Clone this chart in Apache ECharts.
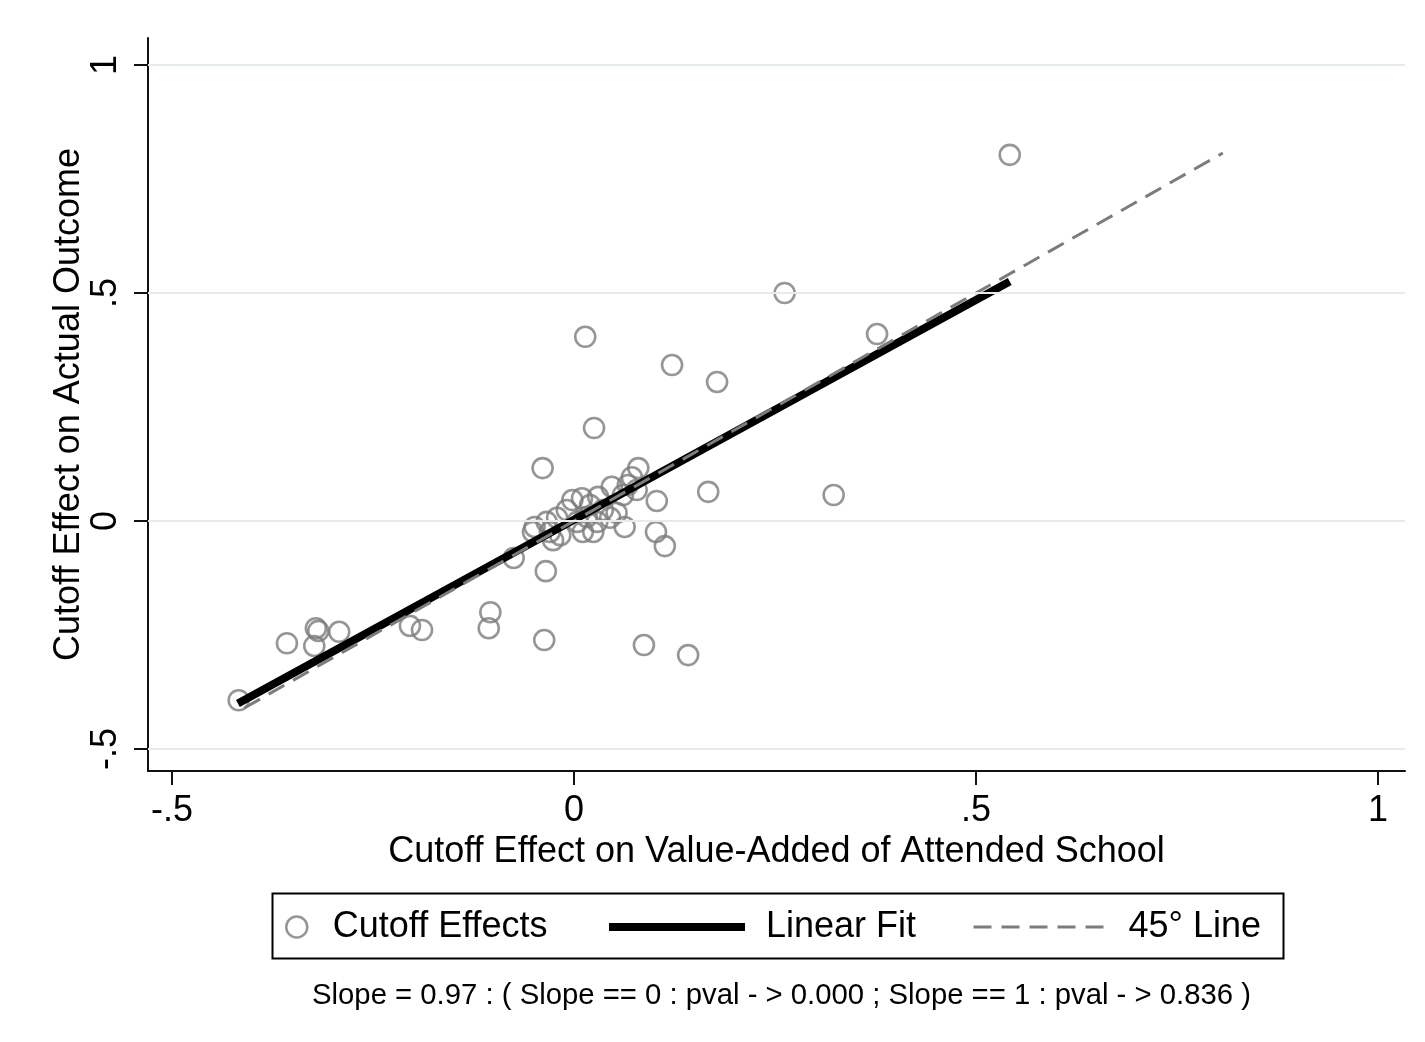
<!DOCTYPE html>
<html>
<head>
<meta charset="utf-8">
<title>Cutoff effects</title>
<script src="https://cdn.jsdelivr.net/npm/echarts@6/dist/echarts.min.js"></script>
<style>
  html, body { margin: 0; padding: 0; background: #fff; }
  #main { width: 1425px; height: 1042px; }
</style>
</head>
<body>
<div id="main"></div>
<script>
// cutoff effects
var effX = [0.542, 0.262, 0.377, 0.014, 0.122, 0.178, 0.025, -0.039, 0.167, 0.323,
            0.080, 0.072, 0.047, 0.067, 0.078, 0.103, 0.030, 0.061, -0.002, 0.010,
            0.020, 0.036, 0.053, 0.045, 0.029, 0.063, 0.102, 0.113, 0.024, -0.009,
            -0.021, -0.034, -0.049, -0.051, -0.030, -0.017, -0.026, 0.004, 0.016, 0.011,
            -0.075, -0.035, -0.104, -0.106, -0.204, -0.189, -0.037, 0.087, 0.142, -0.292,
            -0.321, -0.318, -0.323, -0.357, -0.417];
var effY = [0.803, 0.500, 0.410, 0.404, 0.342, 0.305, 0.204, 0.116, 0.064, 0.057,
            0.116, 0.096, 0.075, 0.079, 0.068, 0.044, 0.053, 0.057, 0.046, 0.050,
            0.035, 0.024, 0.018, 0.007, -0.002, -0.013, -0.024, -0.055, -0.024, 0.024,
            0.007, -0.002, -0.013, -0.024, -0.024, -0.031, -0.042, -0.002, 0.009, -0.024,
            -0.081, -0.110, -0.200, -0.235, -0.230, -0.239, -0.261, -0.272, -0.294, -0.243,
            -0.235, -0.241, -0.274, -0.268, -0.393];

// linear fit end points
var fitX = [-0.418, 0.542];
var fitY = [-0.400, 0.525];

// 45 degree line
var diagX = [-0.41, 0.807];
var diagY = [-0.41, 0.807];

var xTicks = [-0.5, 0, 0.5, 1];
var yTicks = [-0.5, 0, 0.5, 1];

var footNote = 'Slope = 0.97 : ( Slope == 0 : pval - > 0.000 ; Slope == 1 : pval - > 0.836 )';

function pairs(xs, ys) {
  var out = [];
  for (var i = 0; i < xs.length; i++) out.push([xs[i], ys[i]]);
  return out;
}

// stata style labels: -.5 .5
function stataNum(v) {
  return String(v).replace('0.', '.');
}

var FONT = 'Liberation Sans';
var GRAY = '#7c7c7c';
var FS = 36;

var myChart = echarts.init(document.getElementById('main'));

var option = {
  animation: false,
  backgroundColor: '#fff',
  textStyle: { fontFamily: FONT, color: '#000' },
  grid: { left: 148, right: 20, top: 38, bottom: 271 },
  xAxis: {
    type: 'value',
    min: -0.5298,
    max: 1.0336,
    name: 'Cutoff Effect on Value-Added of Attended School',
    nameLocation: 'middle',
    nameGap: 60,
    nameTextStyle: { fontSize: FS, color: '#000', fontFamily: FONT },
    axisLine: { show: true, onZero: false, lineStyle: { color: '#111', width: 2 } },
    axisTick: { show: true, length: 14, customValues: xTicks, lineStyle: { color: '#111', width: 2 } },
    axisLabel: { fontSize: FS, color: '#000', margin: 22, customValues: xTicks, formatter: stataNum },
    splitLine: { show: false }
  },
  yAxis: {
    type: 'value',
    min: -0.5482,
    max: 1.0592,
    name: 'Cutoff Effect on Actual Outcome',
    nameLocation: 'middle',
    nameGap: 61,
    nameMoveOverlap: false,
    nameTextStyle: { fontSize: FS, color: '#000', fontFamily: FONT },
    axisLine: { show: true, onZero: false, lineStyle: { color: '#111', width: 2 } },
    axisTick: { show: true, length: 14, customValues: yTicks, lineStyle: { color: '#111', width: 2 } },
    axisLabel: { fontSize: FS, color: '#000', margin: 24, rotate: 90, customValues: yTicks, formatter: stataNum },
    splitLine: { show: false }
  },
  // three legends so each key gets its own width
  legend: [
    {
      data: ['Cutoff Effects'],
      left: 285, top: 909, padding: 0,
      itemWidth: 48, itemHeight: 21,
      textStyle: { fontSize: FS, color: '#000', fontFamily: FONT, padding: [0, 0, 0, 7] },
      itemStyle: { color: 'transparent', borderColor: GRAY, borderWidth: 2.5 }
    },
    {
      data: ['Linear Fit'],
      left: 605, top: 909, padding: 0,
      itemWidth: 136, itemHeight: 21,
      textStyle: { fontSize: FS, color: '#000', fontFamily: FONT, padding: [0, 0, 0, 16] },
      itemStyle: { opacity: 0 },
      lineStyle: { width: 8, color: '#000' }
    },
    {
      data: ['45° Line'],
      left: 972, top: 909, padding: 0,
      itemWidth: 138, itemHeight: 21,
      textStyle: { fontSize: FS, color: '#000', fontFamily: FONT, padding: [0, 0, 0, 12] },
      itemStyle: { opacity: 0 },
      lineStyle: { width: 3, color: GRAY, type: [18, 10] }
    }
  ],
  title: {
    text: footNote,
    left: 312,
    top: 981,
    padding: 0,
    textStyle: { fontSize: 29.3, fontWeight: 'normal', color: '#000', fontFamily: FONT }
  },
  graphic: [
    {
      type: 'rect',
      left: 270, top: 891,
      shape: { width: 1011, height: 65 },
      style: { fill: 'none', stroke: '#000', lineWidth: 2 },
      z: 100
    }
  ],
  series: [
    {
      // light grid lines at the y ticks
      name: 'grid',
      type: 'line',
      data: [],
      z: 1,
      markLine: {
        silent: true,
        symbol: 'none',
        label: { show: false },
        lineStyle: { color: '#e4eded', width: 2, type: 'solid' },
        data: yTicks.map(function (v) { return { yAxis: v }; })
      }
    },
    {
      name: 'Cutoff Effects',
      type: 'scatter',
      z: 2,
      symbol: 'circle',
      symbolSize: 20,
      itemStyle: { color: 'transparent', borderColor: GRAY, borderWidth: 2.6 },
      data: pairs(effX, effY)
    },
    {
      name: 'Linear Fit',
      type: 'line',
      z: 3,
      symbol: 'none',
      itemStyle: { color: '#000' },
      lineStyle: { color: '#000', width: 8 },
      data: pairs(fitX, fitY)
    },
    {
      name: '45° Line',
      type: 'line',
      z: 4,
      symbol: 'none',
      itemStyle: { color: GRAY },
      lineStyle: { color: GRAY, width: 3, type: [18, 10] },
      data: pairs(diagX, diagY)
    }
  ]
};

myChart.setOption(option);
</script>
</body>
</html>
